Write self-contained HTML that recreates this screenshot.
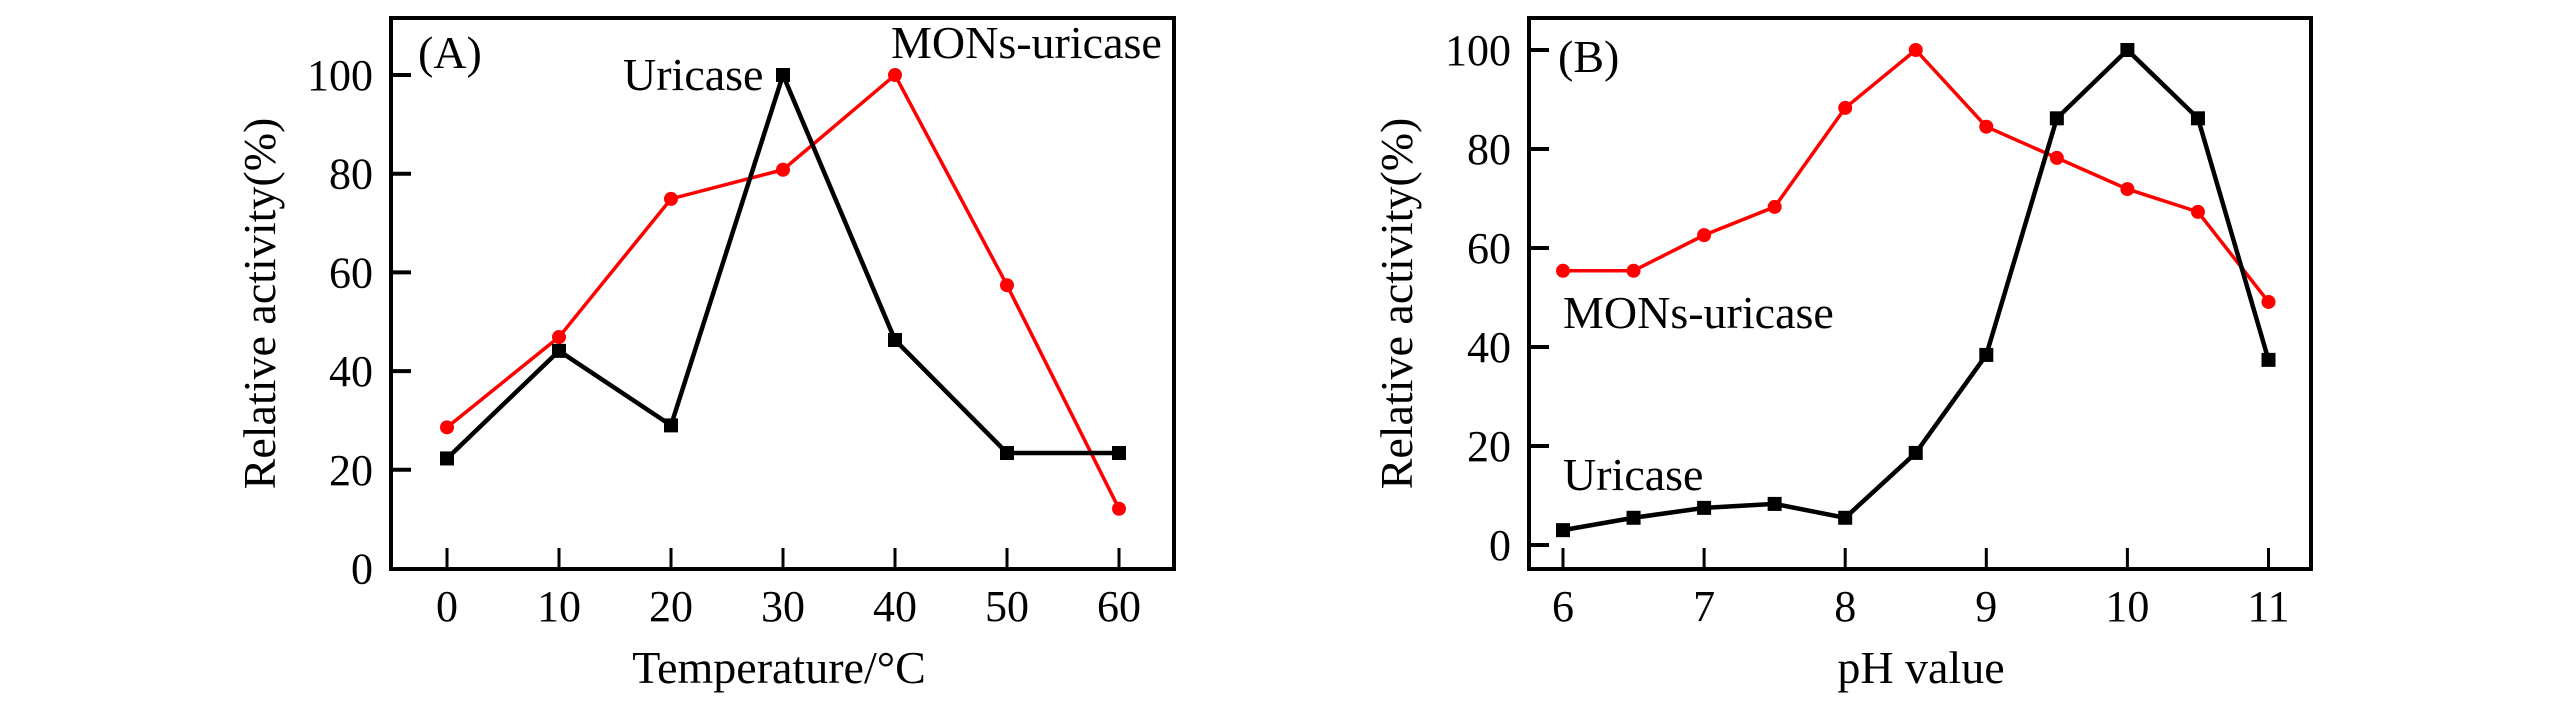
<!DOCTYPE html>
<html><head><meta charset="utf-8"><style>
html,body{margin:0;padding:0;background:#fff;}
svg{display:block;font-family:"Liberation Serif","Times New Roman",serif;}
</style></head><body>
<svg id="fig" width="2567" height="709" viewBox="0 0 2567 709" xmlns="http://www.w3.org/2000/svg"></svg>
<script>
const tempCategories = [0, 10, 20, 30, 40, 50, 60];
const tempUricase = [22.3, 44.1, 29, 100, 46.3, 23.4, 23.4];
const tempMons = [28.6, 46.9, 74.9, 80.8, 100, 57.4, 12.1];
const phCategories = [6, 6.5, 7, 7.5, 8, 8.5, 9, 9.5, 10, 10.5, 11];
const phUricase = [3.0, 5.5, 7.5, 8.3, 5.5, 18.6, 38.4, 86.2, 100, 86.2, 37.4];
const phMons = [55.4, 55.4, 62.6, 68.3, 88.3, 100, 84.5, 78.2, 71.9, 67.3, 49.1];
const tempXTicks = [0, 10, 20, 30, 40, 50, 60];
const phXTicks = [6, 7, 8, 9, 10, 11];
const yTicks = [0, 20, 40, 60, 80, 100];

const NS = "http://www.w3.org/2000/svg";
const svg = document.getElementById('fig');
function mk(tag, attrs, parent, text) {
  const e = document.createElementNS(NS, tag);
  for (const k in attrs) e.setAttribute(k, attrs[k]);
  if (text !== undefined) e.textContent = text;
  (parent || svg).appendChild(e);
  return e;
}

function panel(cfg) {
  const g = mk('g', {});
  
  
  const xs = v => cfg.x0 + (v - cfg.xv0) * cfg.xk;
  const ys = v => cfg.y0 - v * cfg.yk;
  const box = mk('rect', {x: cfg.L, y: cfg.T, width: cfg.R - cfg.L, height: cfg.B - cfg.T, fill: 'none', stroke: '#000', 'stroke-width': 4}, g);
  
  
  cfg.yTicks.forEach(v => {
    const y = ys(v);
    if (Math.abs(y - cfg.B) > 3) {
      const t = mk('line', {x1: cfg.L, x2: cfg.L + 20, y1: y, y2: y, stroke: '#000', 'stroke-width': 4}, g);
      
      
    }
    const lb = mk('text', {x: cfg.L - 18, y: y + 15, 'font-size': 44, 'text-anchor': 'end'}, g, String(v));
    
    
  });
  cfg.xTicks.forEach(v => {
    const x = xs(v);
    const t = mk('line', {x1: x, x2: x, y1: cfg.B, y2: cfg.B - 21, stroke: '#000', 'stroke-width': 3}, g);
    
    
    const lb = mk('text', {x: x, y: 621, 'font-size': 44, 'text-anchor': 'middle'}, g, String(v));
    
    
  });
  const xt = mk('text', {x: cfg.xTitleX, y: 683, 'font-size': 46, 'text-anchor': 'middle'}, g, cfg.xTitle);
  
  
  const yt = mk('text', {x: 0, y: 0, 'font-size': 46, 'text-anchor': 'middle', transform: `translate(${cfg.yTitleX},${(cfg.T + cfg.B) / 2 + 10}) rotate(-90)`}, g, 'Relative activity(%)');
  
  

  function series(cats, vals, color, sw, marker, nm) {
    const pts = cats.map((c, i) => xs(c) + ',' + ys(vals[i])).join(' ');
    const pl = mk('polyline', {points: pts, fill: 'none', stroke: color, 'stroke-width': sw, 'stroke-linejoin': 'miter'}, g);
    
    
    cats.forEach((c, i) => {
      let m;
      if (marker === 'sq') m = mk('rect', {x: xs(c) - 7, y: ys(vals[i]) - 7, width: 14, height: 14, fill: color}, g);
      else m = mk('circle', {cx: xs(c), cy: ys(vals[i]), r: 7, fill: color}, g);
      
      
    });
  }
  series(cfg.cats, cfg.mons, '#ff0000', 3.5, 'ci', 'mons-uricase');
  series(cfg.cats, cfg.uric, '#000000', 4.5, 'sq', 'uricase');
  cfg.labels.forEach(l => {
    const t = mk('text', {x: l[0], y: l[1], 'font-size': 46}, g, l[2]);
    
    
  });
}

panel({name: 'panel-a-temperature', L: 391, R: 1174, T: 18, B: 569,
  x0: 447, xv0: 0, xk: 11.2, y0: 568.5, yk: 4.935,
  xTicks: tempXTicks, yTicks: yTicks, cats: tempCategories, uric: tempUricase, mons: tempMons,
  xTitle: 'Temperature/°C', xTitleX: 779, yTitleX: 275,
  labels: [[418, 68, '(A)', 'panel-label'], [623, 90, 'Uricase', 'uricase-label'], [891, 58, 'MONs-uricase', 'mons-uricase-label']]});

panel({name: 'panel-b-ph', L: 1529, R: 2311, T: 18, B: 569,
  x0: 1563, xv0: 6, xk: 141.1, y0: 545, yk: 4.95,
  xTicks: phXTicks, yTicks: yTicks, cats: phCategories, uric: phUricase, mons: phMons,
  xTitle: 'pH value', xTitleX: 1921, yTitleX: 1412,
  labels: [[1558, 72, '(B)', 'panel-label'], [1563, 328, 'MONs-uricase', 'mons-uricase-label'], [1563, 490, 'Uricase', 'uricase-label']]});
</script>
</body></html>
